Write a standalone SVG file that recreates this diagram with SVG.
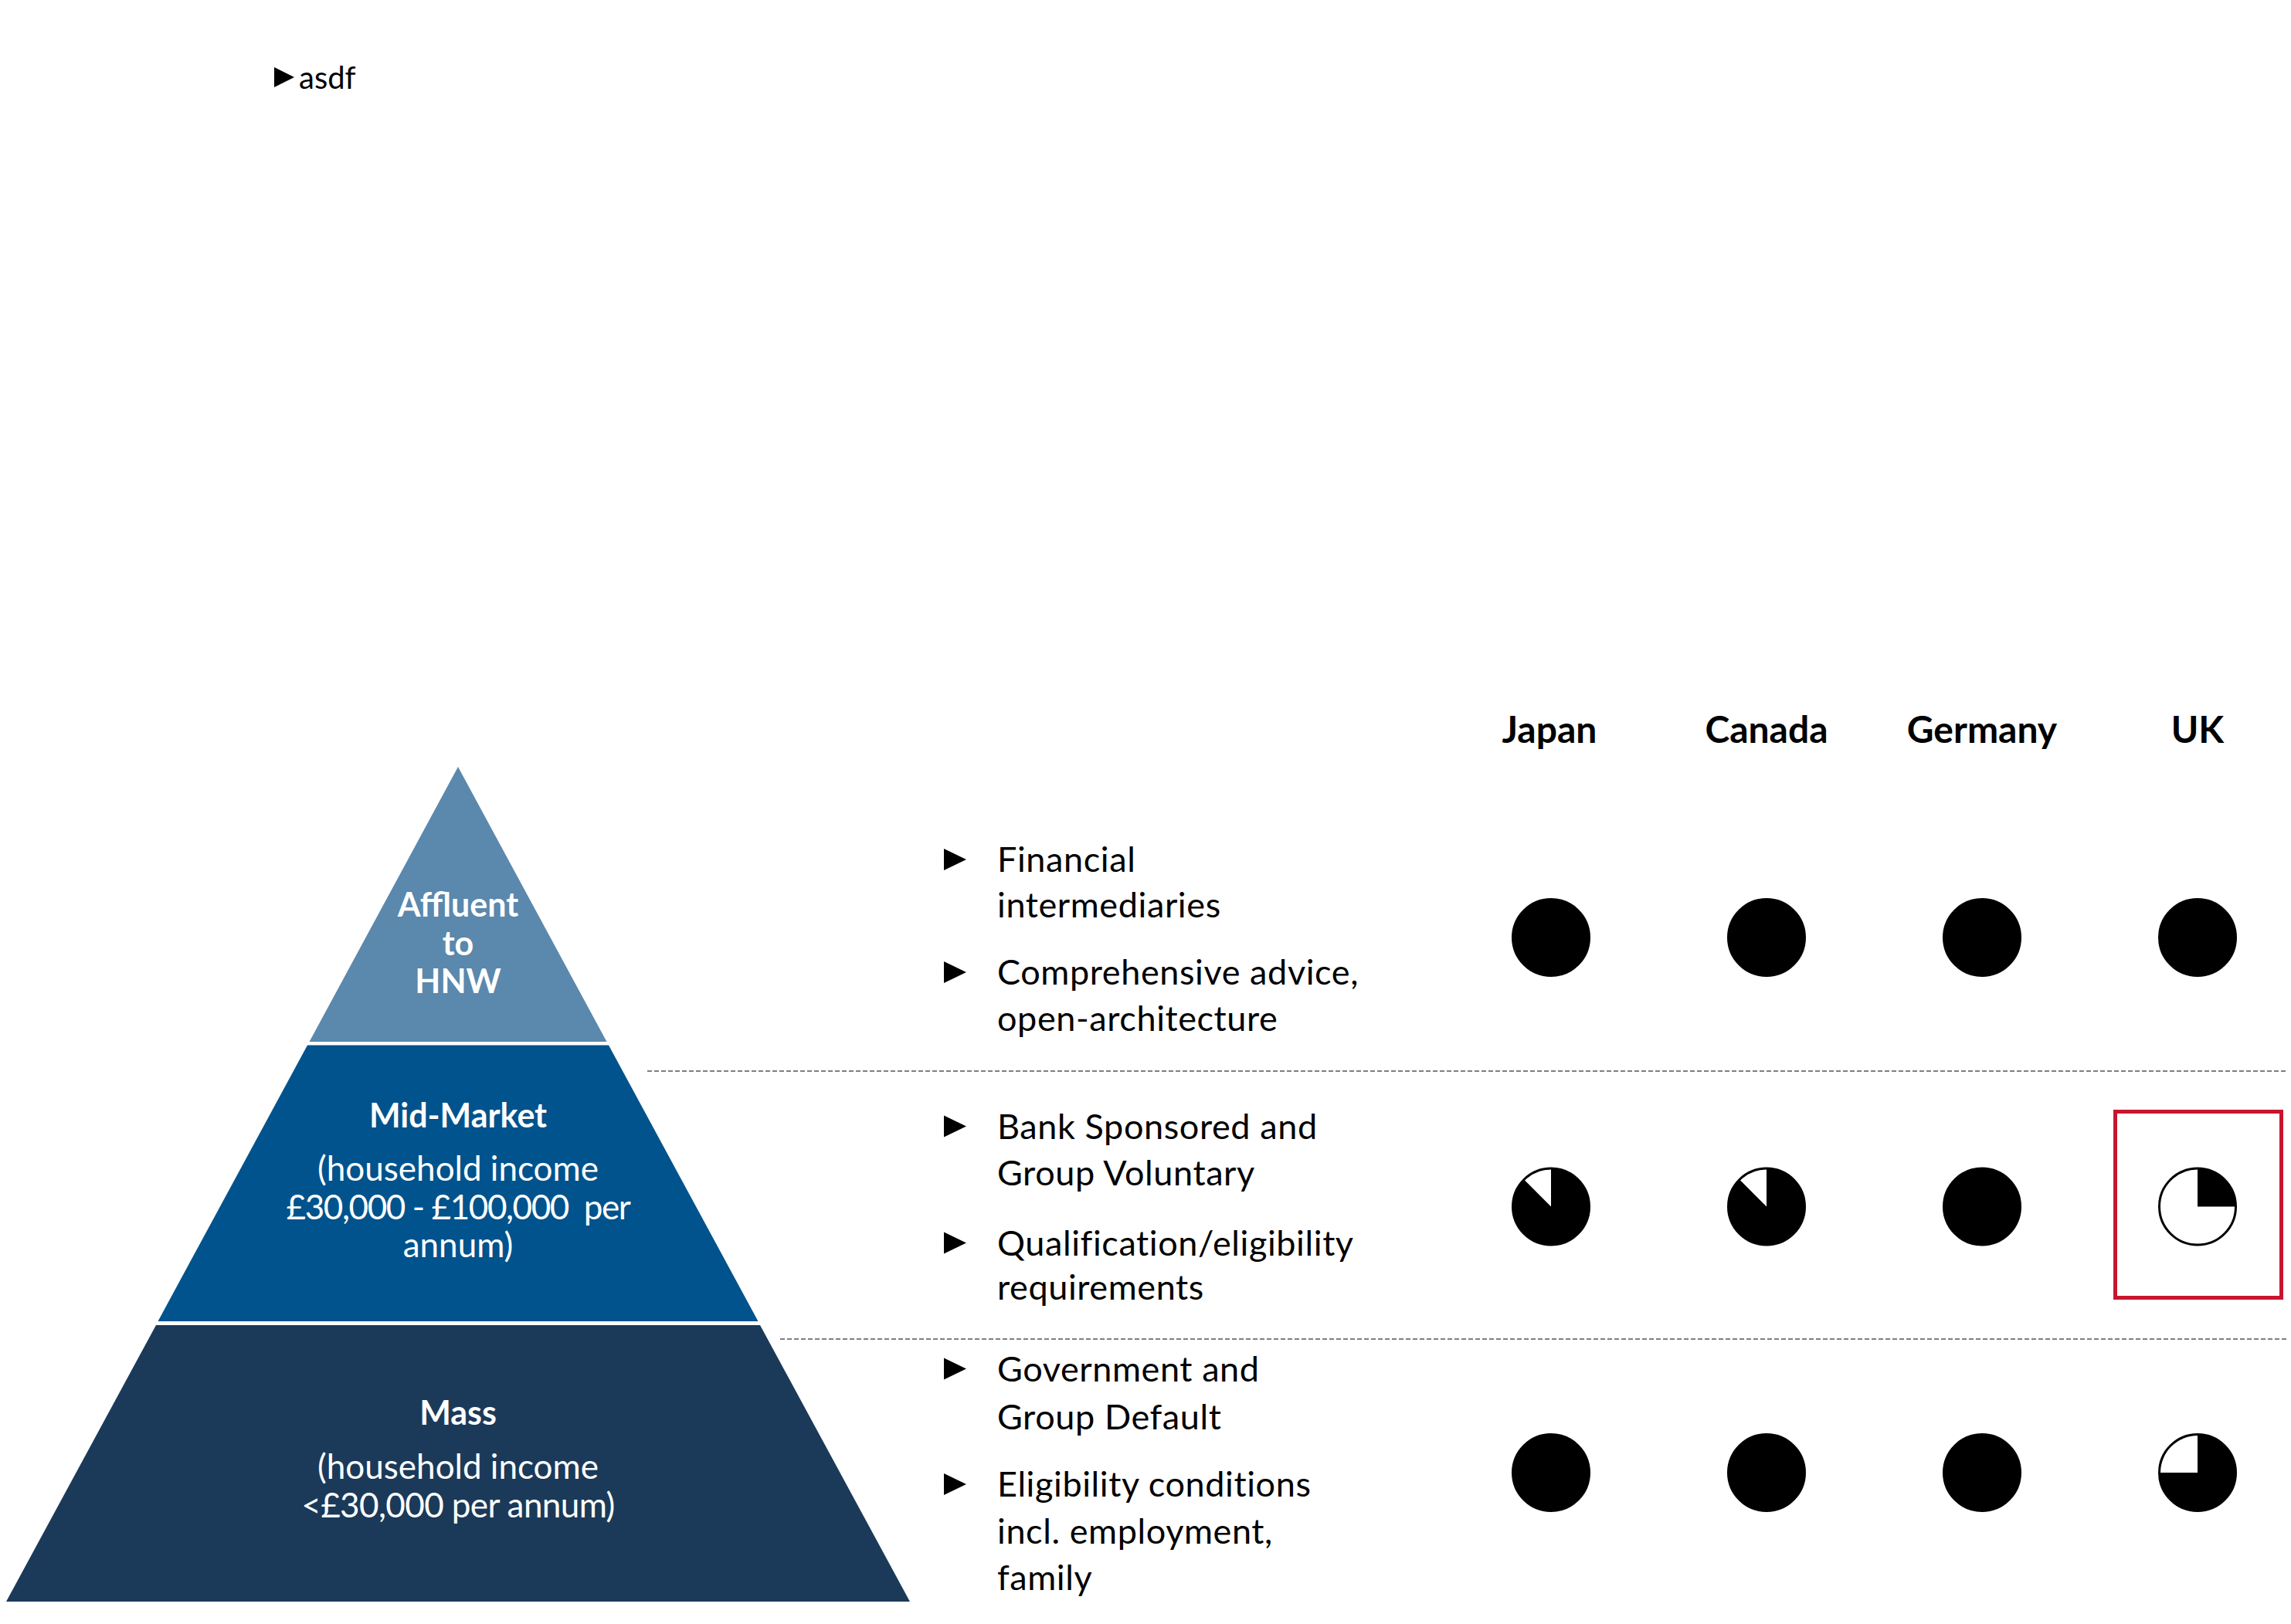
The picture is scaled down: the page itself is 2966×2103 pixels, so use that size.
<svg xmlns="http://www.w3.org/2000/svg" width="2966" height="2103" viewBox="0 0 2966 2103">
<style>
  text { font-family: Lato, "Liberation Sans", sans-serif; }
  .pyr { fill: #ffffff; font-size: 44px; text-anchor: middle; white-space: pre; }
  .pyrb { font-weight: bold; font-size: 43px; }
  .hdr { fill: #000000; font-size: 48px; font-weight: bold; text-anchor: middle; }
  .lst { fill: #000000; font-size: 45px; letter-spacing: 0.6px; }
  .bul { fill: #000000; }
  .sep { stroke: #7f7f7f; stroke-width: 2; stroke-dasharray: 6 3; fill: none; }
  .ball { fill: #000000; stroke: #000000; stroke-width: 3; }
  .ballw { fill: #ffffff; stroke: #000000; stroke-width: 3; }
  .wedgew { fill: #ffffff; }
  .wedgeb { fill: #000000; }
</style>
<rect x="0" y="0" width="2966" height="2103" fill="#ffffff"/>

<g id="note">
  <polygon class="bul" points="355,87 381,100 355,113"/>
  <text x="387" y="115" style="font-size:40px" fill="#000000">asdf</text>
</g>

<g id="tier-affluent">
  <polygon points="593,993 785.5,1349 400.5,1349" fill="#5b88ad"/>
  <text class="pyr pyrb" x="593" y="1187">Affluent</text>
  <text class="pyr pyrb" x="593" y="1237">to</text>
  <text class="pyr pyrb" x="593" y="1286">HNW</text>
</g>

<g id="tier-midmarket">
  <polygon points="398,1353.5 788,1353.5 981.5,1711 204.5,1711" fill="#00538c"/>
  <text class="pyr pyrb" x="593" y="1460">Mid-Market</text>
  <text class="pyr" x="593" y="1529">(household income</text>
  <text class="pyr" x="593" y="1578.5" style="letter-spacing:-1.4px">£30,000 - £100,000  per</text>
  <text class="pyr" x="593" y="1628">annum)</text>
</g>

<g id="tier-mass">
  <polygon points="202,1716 984,1716 1178,2074 8,2074" fill="#1b3a59"/>
  <text class="pyr pyrb" x="593" y="1845">Mass</text>
  <text class="pyr" x="593" y="1915">(household income</text>
  <text class="pyr" x="593" y="1965" style="letter-spacing:-0.6px">&lt;£30,000 per annum)</text>
</g>

<g id="separators">
  <line class="sep" x1="838" y1="1387" x2="2962" y2="1387"/>
  <line class="sep" x1="1010" y1="1734" x2="2962" y2="1734"/>
</g>

<g id="headers">
  <text class="hdr" x="2006" y="962">Japan</text>
  <text class="hdr" x="2287" y="962">Canada</text>
  <text class="hdr" x="2566" y="962">Germany</text>
  <text class="hdr" x="2845" y="962">UK</text>
</g>

<g id="list-affluent">
  <polygon class="bul" points="1222,1099 1251,1113 1222,1127"/>
  <text class="lst" x="1291" y="1128.5">Financial</text>
  <text class="lst" x="1291" y="1188">intermediaries</text>
  <polygon class="bul" points="1222,1245 1251,1259 1222,1273"/>
  <text class="lst" x="1291" y="1275">Comprehensive advice,</text>
  <text class="lst" x="1291" y="1335">open-architecture</text>
</g>

<g id="list-midmarket">
  <polygon class="bul" points="1222,1444.5 1251,1458.5 1222,1472.5"/>
  <text class="lst" x="1291" y="1474.5">Bank Sponsored and</text>
  <text class="lst" x="1291" y="1535">Group Voluntary</text>
  <polygon class="bul" points="1222,1595.5 1251,1609.5 1222,1623.5"/>
  <text class="lst" x="1291" y="1625.5">Qualification/eligibility</text>
  <text class="lst" x="1291" y="1683">requirements</text>
</g>

<g id="list-mass">
  <polygon class="bul" points="1222,1758.5 1251,1772.5 1222,1786.5"/>
  <text class="lst" x="1291" y="1789">Government and</text>
  <text class="lst" x="1291" y="1850.5">Group Default</text>
  <polygon class="bul" points="1222,1908 1251,1922 1222,1936"/>
  <text class="lst" x="1291" y="1938">Eligibility conditions</text>
  <text class="lst" x="1291" y="1998.5">incl. employment,</text>
  <text class="lst" x="1291" y="2059">family</text>
</g>

<g id="ratings-affluent">
  <circle class="ball" cx="2008" cy="1214" r="49.5"/>
  <circle class="ball" cx="2287" cy="1214" r="49.5"/>
  <circle class="ball" cx="2566" cy="1214" r="49.5"/>
  <circle class="ball" cx="2845" cy="1214" r="49.5"/>
</g>

<g id="ratings-midmarket">
  <circle class="ball" cx="2008" cy="1562.5" r="49.5"/>
  <path class="wedgew" d="M2008,1562.5 L2008,1514.5 A48,48 0 0 0 1974.06,1528.56 Z"/>
  <circle class="ball" cx="2287" cy="1562.5" r="49.5"/>
  <path class="wedgew" d="M2287,1562.5 L2287,1514.5 A48,48 0 0 0 2253.06,1528.56 Z"/>
  <circle class="ball" cx="2566" cy="1562.5" r="49.5"/>
  <circle class="ballw" cx="2845" cy="1562.5" r="49.5"/>
  <path class="wedgeb" d="M2845,1562.5 L2845,1513 A49.5,49.5 0 0 1 2894.5,1562.5 Z"/>
  <rect x="2738.5" y="1439.5" width="215" height="241" fill="none" stroke="#c8152f" stroke-width="5"/>
</g>

<g id="ratings-mass">
  <circle class="ball" cx="2008" cy="1907" r="49.5"/>
  <circle class="ball" cx="2287" cy="1907" r="49.5"/>
  <circle class="ball" cx="2566" cy="1907" r="49.5"/>
  <circle class="ball" cx="2845" cy="1907" r="49.5"/>
  <path class="wedgew" d="M2845,1907 L2797,1907 A48,48 0 0 1 2845,1859 Z"/>
</g>
</svg>
